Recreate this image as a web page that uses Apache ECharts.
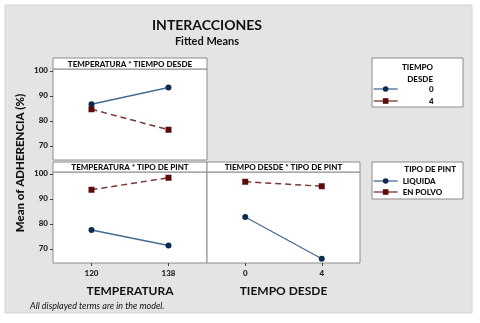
<!DOCTYPE html>
<html>
<head>
<meta charset="utf-8">
<script src="https://cdn.jsdelivr.net/npm/echarts@6/dist/echarts.min.js"></script>
<style>
  html, body { margin: 0; padding: 0; background: #ffffff; }
  #chart { width: 480px; height: 323px; }
</style>
</head>
<body>
<div id="chart"></div>
<script>
// Fitted means for the two-way interactions
const tempCats = ['120', '138'];
const tiempoCats = ['0', '4'];
const yTicks = [70, 80, 90, 100];

// TEMPERATURA * TIEMPO DESDE
const tempTiempo0 = [86.6, 93.3];
const tempTiempo4 = [84.6, 76.4];
// TEMPERATURA * TIPO DE PINT
const tempLiquida = [77.5, 71.3];
const tempPolvo = [93.6, 98.4];
// TIEMPO DESDE * TIPO DE PINT
const tiempoLiquida = [82.7, 66.0];
const tiempoPolvo = [96.8, 95.0];

const FONT = 'Lato';
const HEAVY = '900';
const BLUE_LINE = '#456a92';
const BLUE_MARK = '#0d2b52';
const RED_LINE = '#7d3434';
const RED_MARK = '#5c0b0b';

const chart = echarts.init(document.getElementById('chart'), null, { renderer: 'canvas' });

const gridBase = { show: true, backgroundColor: '#ffffff', borderColor: '#8c8c8c', borderWidth: 1 };
const grids = [
  Object.assign({ left: 53, top: 69, width: 154, height: 91 }, gridBase),
  Object.assign({ left: 53, top: 172, width: 154, height: 91 }, gridBase),
  Object.assign({ left: 207, top: 172, width: 153, height: 91 }, gridBase)
];

function yAxis(gridIndex, showLabels) {
  return {
    type: 'value', gridIndex, min: 64.3, max: 100.7,
    splitLine: { show: false },
    axisLine: { show: false },
    axisTick: { show: showLabels, customValues: yTicks, length: 3, lineStyle: { color: '#444' } },
    axisLabel: {
      show: showLabels, customValues: yTicks, margin: 5,
      fontFamily: FONT, fontSize: 8, fontWeight: HEAVY, color: '#222'
    }
  };
}

function xAxis(gridIndex, cats, name, showLabels) {
  return {
    type: 'category', gridIndex, data: cats, boundaryGap: true,
    axisLine: { show: false },
    axisTick: { show: showLabels, alignWithLabel: true, length: 3, lineStyle: { color: '#444' } },
    axisLabel: { show: showLabels, margin: 6, fontFamily: FONT, fontSize: 8, fontWeight: HEAVY, color: '#222' },
    name: name, nameLocation: 'middle', nameGap: 22,
    nameTextStyle: { fontFamily: FONT, fontSize: 12, fontWeight: 'bold', color: '#111' }
  };
}

function blueSeries(name, xi, data) {
  return {
    name, type: 'line', xAxisIndex: xi, yAxisIndex: xi, data,
    symbol: 'circle', symbolSize: 6, animation: false,
    lineStyle: { color: BLUE_LINE, width: 1.3, type: 'solid' },
    itemStyle: { color: BLUE_MARK }
  };
}
function redSeries(name, xi, data) {
  return {
    name, type: 'line', xAxisIndex: xi, yAxisIndex: xi, data,
    symbol: 'rect', symbolSize: 6, animation: false,
    lineStyle: { color: RED_LINE, width: 1.5, type: [6, 4] },
    itemStyle: { color: RED_MARK }
  };
}

function stripe(x, y, w, h, text) {
  return [
    { type: 'rect', shape: { x, y, width: w, height: h }, style: { fill: '#ffffff', stroke: '#8c8c8c', lineWidth: 1 } },
    { type: 'text', x: x + w / 2, y: y + h / 2 + 0.5,
      style: { text, fill: '#111', font: HEAVY + ' 8px ' + FONT, align: 'center', verticalAlign: 'middle' } }
  ];
}

const legendText = { fontFamily: FONT, fontSize: 8, fontWeight: HEAVY, color: '#111' };
const legendLine = { type: 'solid', width: 1.3 };

const option = {
  backgroundColor: '#ffffff',
  animation: false,
  grid: grids,
  xAxis: [
    xAxis(0, tempCats, '', false),
    xAxis(1, tempCats, 'TEMPERATURA', true),
    xAxis(2, tiempoCats, 'TIEMPO DESDE', true)
  ],
  yAxis: [yAxis(0, true), yAxis(1, true), yAxis(2, false)],
  legend: [
    {
      data: ['0', '4'], orient: 'vertical', left: 373, top: 85,
      itemWidth: 24, itemHeight: 7, itemGap: 4, padding: 0,
      lineStyle: legendLine,
      formatter: '{r|{name}}',
      textStyle: Object.assign({ rich: { r: Object.assign({ width: 31, align: 'right' }, legendText) } }, legendText),
      selectedMode: false
    },
    {
      data: ['LIQUIDA', 'EN POLVO'], orient: 'vertical', left: 373, top: 177,
      itemWidth: 24, itemHeight: 7, itemGap: 3, padding: 0,
      lineStyle: legendLine,
      textStyle: legendText, selectedMode: false
    }
  ],
  graphic: [
    { type: 'rect', z: -10, shape: { x: 5, y: 5, width: 467, height: 308 },
      style: { fill: '#e4e4e4', stroke: '#d4d4d4', lineWidth: 1 } },
    { type: 'text', x: 207, y: 25,
      style: { text: 'INTERACCIONES', fill: '#111', font: 'bold 14px ' + FONT, align: 'center', verticalAlign: 'middle' } },
    { type: 'text', x: 207, y: 41,
      style: { text: 'Fitted Means', fill: '#111', font: 'bold 11px ' + FONT, align: 'center', verticalAlign: 'middle' } },
    { type: 'text', x: 20, y: 163, rotation: Math.PI / 2,
      style: { text: 'Mean of ADHERENCIA (%)', fill: '#111', font: HEAVY + ' 11.5px ' + FONT, align: 'center', verticalAlign: 'middle' } },
    { type: 'text', x: 30, y: 306,
      style: { text: 'All displayed terms are in the model.', fill: '#111', font: 'italic 9px ' + FONT, align: 'left', verticalAlign: 'middle' } },
    ...stripe(53, 58, 154, 11, 'TEMPERATURA * TIEMPO DESDE'),
    ...stripe(53, 162, 154, 10, 'TEMPERATURA * TIPO DE PINT'),
    ...stripe(207, 162, 153, 10, 'TIEMPO DESDE * TIPO DE PINT'),
    // legend frames and titles
    { type: 'rect', z: 0, shape: { x: 372, y: 58, width: 91, height: 49 },
      style: { fill: '#ffffff', stroke: '#8c8c8c', lineWidth: 1 } },
    { type: 'text', x: 433, y: 67,
      style: { text: 'TIEMPO', fill: '#111', font: HEAVY + ' 8px ' + FONT, align: 'right', verticalAlign: 'middle' } },
    { type: 'text', x: 433, y: 79,
      style: { text: 'DESDE', fill: '#111', font: HEAVY + ' 8px ' + FONT, align: 'right', verticalAlign: 'middle' } },
    { type: 'rect', z: 0, shape: { x: 372, y: 162, width: 91, height: 37 },
      style: { fill: '#ffffff', stroke: '#8c8c8c', lineWidth: 1 } },
    { type: 'text', x: 456, y: 169,
      style: { text: 'TIPO DE PINT', fill: '#111', font: HEAVY + ' 8px ' + FONT, align: 'right', verticalAlign: 'middle' } }
  ],
  series: [
    blueSeries('0', 0, tempTiempo0),
    redSeries('4', 0, tempTiempo4),
    blueSeries('LIQUIDA', 1, tempLiquida),
    redSeries('EN POLVO', 1, tempPolvo),
    blueSeries('LIQUIDA', 2, tiempoLiquida),
    redSeries('EN POLVO', 2, tiempoPolvo)
  ]
};

chart.setOption(option);
</script>
</body>
</html>
